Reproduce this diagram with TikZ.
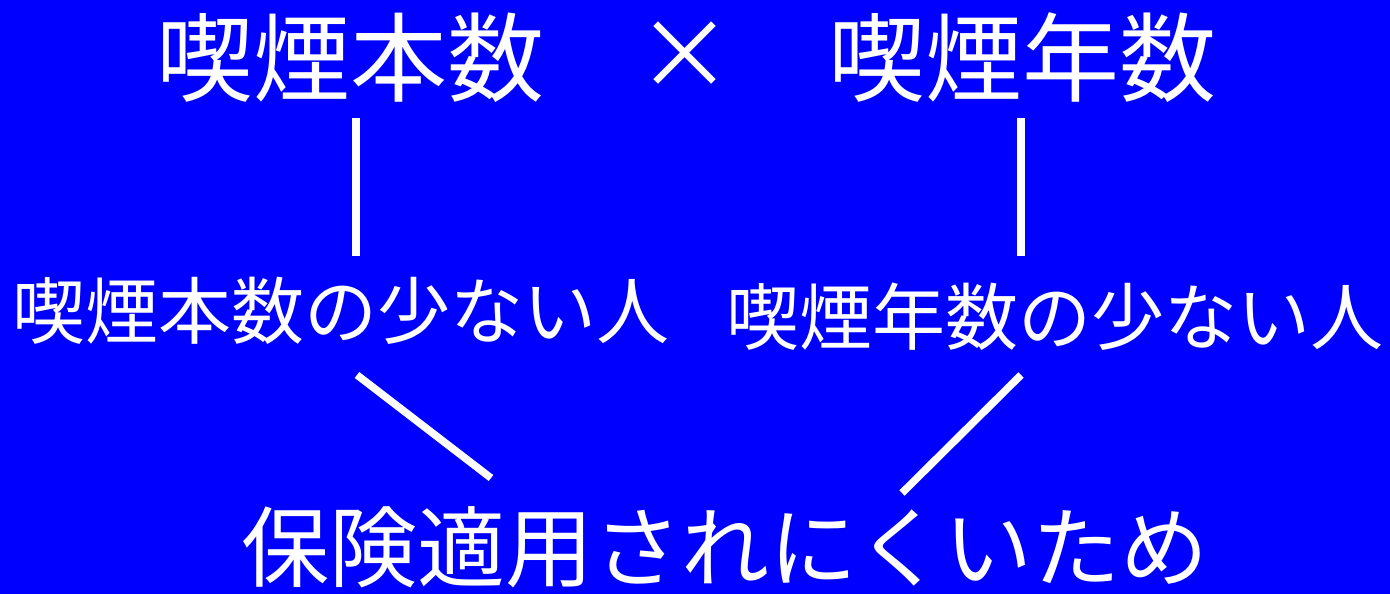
\documentclass[tikz,border=0pt]{standalone}
\usepackage{fontspec}
\newfontfamily\cjk{Noto Sans CJK JP}
\definecolor{bg}{HTML}{0000FF}
\tikzset{
  lbl/.style={text=white, inner sep=0pt, anchor=center},
  big/.style={lbl, font=\cjk\fontsize{97}{97}\selectfont},
  mid/.style={lbl, font=\cjk\fontsize{73}{73}\selectfont},
  bot/.style={lbl, font=\cjk\fontsize{88}{88}\selectfont},
  link/.style={draw=white, line width=7.5pt}
}
\begin{document}
\begin{tikzpicture}[x=1pt,y=-1pt]
\fill[bg] (0,0) rectangle (1390,594);
\useasboundingbox (0,0) rectangle (1390,594);
\node[big] (n1) at (350,58) {喫煙本数};
\node[big] (x) at (685,56) {×};
\node[big] (n2) at (1022,58) {喫煙年数};
\node[mid] (m1) at (341,311) {喫煙本数の少ない人};
\node[mid] (m2) at (1055,317) {喫煙年数の少ない人};
\node[bot] (b) at (725,547) {保険適用されにくいため};
\coordinate (v1t) at (356,118); \coordinate (v1b) at (356,256);
\coordinate (v2t) at (1021,118); \coordinate (v2b) at (1021,256);
\coordinate (d1t) at (357,375); \coordinate (d1b) at (491,478);
\coordinate (d2t) at (1021,375); \coordinate (d2b) at (902,493);
\draw[link] (v1t) -- (v1b);
\draw[link] (v2t) -- (v2b);
\draw[link] (d1t) -- (d1b);
\draw[link] (d2t) -- (d2b);
\end{tikzpicture}
\end{document}
